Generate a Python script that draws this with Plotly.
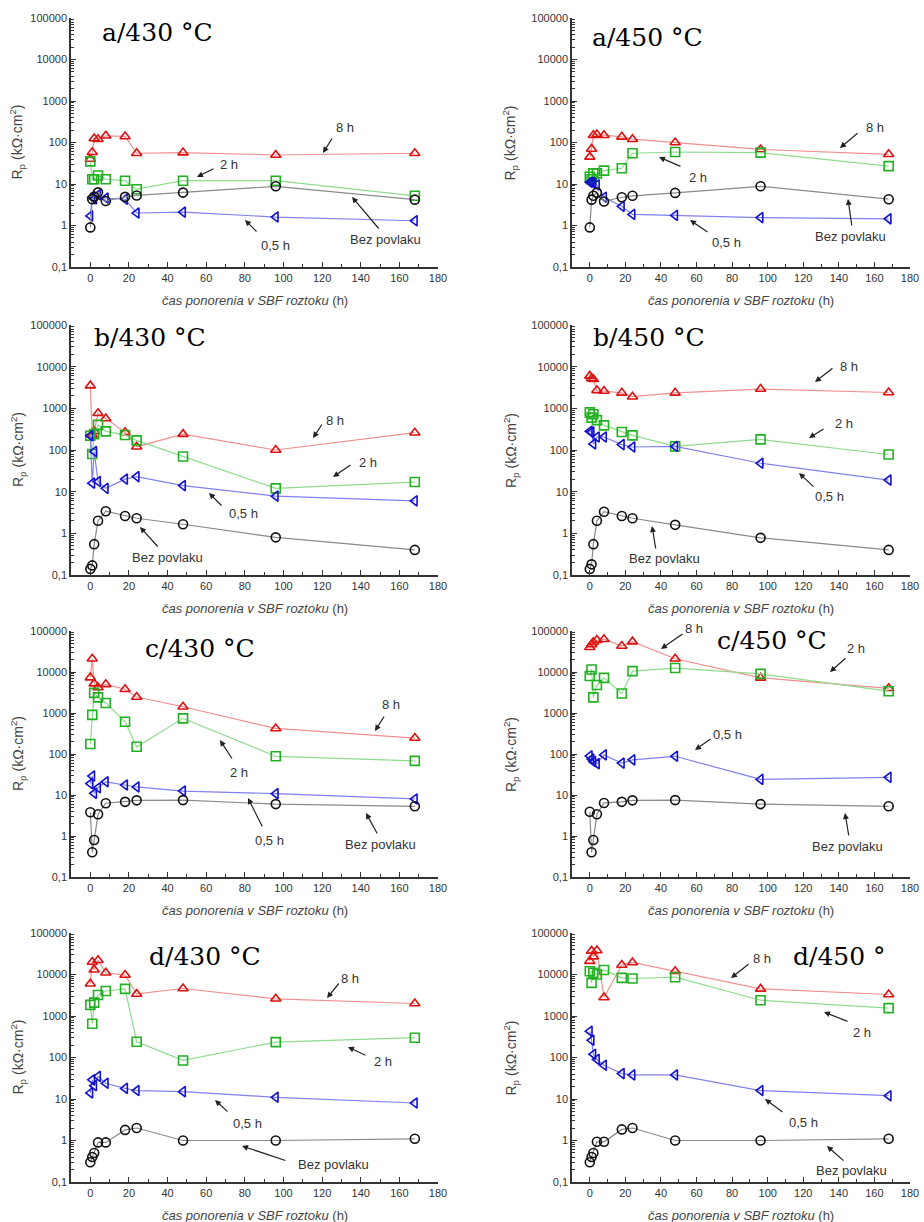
import plotly.graph_objects as go

W, H = 924, 1222

# ---------------- data ----------------
times = [0, 1, 2, 4, 8, 18, 24, 48, 96, 168]
series_names = ["8 h", "2 h", "0,5 h", "Bez povlaku"]

a430_8h = [40, 58, 125, 120, 145, 140, 55, 57, 50, 55]
a430_2h = [35, 13, 13, 16, 13, 12, 7.5, 12, 12, 5.2]
a430_05h = [1.7, 4.8, 4.4, 5.5, 4.6, 4.3, 2.0, 2.1, 1.6, 1.3]
a430_bez = [0.9, 4.3, 5.0, 6.3, 3.9, 4.9, 5.3, 6.2, 8.8, 4.2]

a450_8h = [45, 70, 150, 155, 150, 137, 120, 100, 68, 52]
a450_2h = [15, 13, 18, 18, 21, 24, 55, 59, 57, 27]
a450_05h = [11, 11, 10.5, 9.5, 4.8, 2.9, 1.85, 1.75, 1.55, 1.45]
a450_bez = [0.9, 4.2, 5.2, 6.2, 3.8, 4.8, 5.2, 6.1, 8.8, 4.3]

b430_8h = [3500, 230, 280, 760, 570, 265, 120, 240, 100, 260]
b430_2h = [220, 80, 240, 400, 280, 230, 170, 70, 12, 17]
b430_05h = [220, 16, 92, 17.5, 12, 20, 23, 14, 7.8, 6]
b430_bez = [0.14, 0.17, 0.55, 2.0, 3.4, 2.6, 2.3, 1.65, 0.8, 0.4]

b450_8h = [6000, 5200, 5000, 2700, 2600, 2350, 1900, 2350, 2900, 2400]
b450_2h = [800, 600, 720, 520, 390, 270, 225, 122, 180, 78]
b450_05h = [280, 270, 140, 205, 205, 135, 118, 122, 48, 19]
b450_bez = [0.14, 0.18, 0.55, 2.0, 3.3, 2.6, 2.3, 1.6, 0.78, 0.4]

c430_8h = [7300, 21000, 5200, 4200, 5000, 3800, 2450, 1420, 420, 245]
c430_2h = [175, 900, 3100, 2400, 1750, 610, 150, 740, 88, 68]
c430_05h = [19, 29, 11, 15, 21, 17.5, 15.7, 12.5, 10.8, 8]
c430_bez = [3.8, 0.4, 0.8, 3.4, 6.3, 6.8, 7.4, 7.5, 6.0, 5.3]

c450_8h = [40000, 47000, 53000, 60000, 63000, 43000, 55000, 21000, 7200, 4000]
c450_2h = [8000, 11500, 2400, 4800, 7200, 3000, 10500, 12500, 9000, 3400]
c450_05h = [90, 75, 65, 58, 95, 60, 72, 88, 24, 27]
c450_bez = [3.9, 0.4, 0.8, 3.4, 6.4, 6.8, 7.4, 7.5, 6.0, 5.3]

d430_8h = [6000, 20000, 13000, 22000, 11000, 9700, 3400, 4600, 2600, 2000]
d430_2h = [1850, 650, 2100, 3200, 4000, 4500, 240, 85, 235, 300]
d430_05h = [14, 29, 21, 35, 24, 18, 16, 15, 11, 8]
d430_bez = [0.3, 0.4, 0.5, 0.9, 0.9, 1.8, 2.0, 1.0, 1.0, 1.1]

d450_8h = [21000, 37000, 27000, 38000, 2800, 17000, 19500, 12000, 4500, 3300]
d450_2h = [12000, 6300, 11000, 10000, 12800, 8300, 8000, 8600, 2400, 1550]
d450_05h = [430, 260, 120, 90, 65, 41, 38, 38, 16, 12]
d450_bez = [0.3, 0.4, 0.5, 0.93, 0.93, 1.85, 2.0, 1.0, 1.0, 1.1]

panel_titles = ["a/430 °C", "a/450 °C", "b/430 °C", "b/450 °C",
                "c/430 °C", "c/450 °C", "d/430 °C", "d/450 °"]
panel_data = [
    [a430_8h, a430_2h, a430_05h, a430_bez],
    [a450_8h, a450_2h, a450_05h, a450_bez],
    [b430_8h, b430_2h, b430_05h, b430_bez],
    [b450_8h, b450_2h, b450_05h, b450_bez],
    [c430_8h, c430_2h, c430_05h, c430_bez],
    [c450_8h, c450_2h, c450_05h, c450_bez],
    [d430_8h, d430_2h, d430_05h, d430_bez],
    [d450_8h, d450_2h, d450_05h, d450_bez],
]

y_tickvals = [0.1, 1, 10, 100, 1000, 10000, 100000]
y_ticktext = ["0,1", "1", "10", "100", "1000", "10000", "100000"]
x_tickvals = [0, 20, 40, 60, 80, 100, 120, 140, 160, 180]
x_title = "<i>čas ponorenia v SBF roztoku</i> (h)"
y_title = "R<sub>p</sub> (kΩ·cm<sup>2</sup>)"

# ---------------- styles / layout geometry (pixels) ----------------
marker_syms = ["triangle-up-open", "square-open", "triangle-left-open", "circle-open"]
marker_cols = ["#dd1111", "#22b022", "#1111cc", "#111111"]
line_cols = ["#f09090", "#8fdc8f", "#8080ee", "#8a8a8a"]

col_px = [(71, 438), (572, 910)]
row_px = [(18, 267), (325, 575), (631, 877), (933, 1182)]
ytitle_x = [18, 511]
xtitle_gap = 33

label_pos = [(157, 33), (647, 37), (150, 337), (649, 337),
             (200, 649), (772, 640), (205, 956), (839, 956)]

# (text, text_x, text_y, tail_x, tail_y, head_x, head_y)
callouts = [
    [("8 h", 345, 128, 333, 137, 323, 153), ("2 h", 229, 165, 215, 168, 197, 177),
     ("0,5 h", 275, 246, 258, 233, 245, 220), ("Bez povlaku", 385, 240, 380, 230, 352, 197)],
    [("8 h", 875, 128, 859, 132, 840, 148), ("2 h", 698, 177, 682, 167, 659, 157),
     ("0,5 h", 726, 243, 709, 233, 690, 220), ("Bez povlaku", 850, 236, 852, 227, 848, 199)],
    [("8 h", 335, 420, 323, 423, 313, 438), ("2 h", 368, 462, 352, 464, 333, 477),
     ("0,5 h", 243, 513, 223, 507, 209, 493), ("Bez povlaku", 167, 557, 159, 548, 140, 527)],
    [("8 h", 849, 366, 834, 367, 815, 382), ("2 h", 844, 423, 825, 428, 809, 438),
     ("0,5 h", 829, 496, 815, 488, 799, 473), ("Bez povlaku", 664, 559, 656, 550, 652, 526)],
    [("8 h", 391, 704, 385, 715, 375, 731), ("2 h", 239, 772, 233, 760, 220, 740),
     ("0,5 h", 269, 840, 263, 828, 248, 798), ("Bez povlaku", 380, 844, 378, 835, 366, 813)],
    [("8 h", 694, 628, 684, 633, 661, 649), ("2 h", 856, 649, 847, 657, 830, 672),
     ("0,5 h", 727, 734, 712, 738, 695, 750), ("Bez povlaku", 847, 846, 849, 837, 845, 813)],
    [("8 h", 350, 978, 340, 982, 327, 998), ("2 h", 383, 1061, 367, 1056, 348, 1047),
     ("0,5 h", 247, 1123, 229, 1113, 215, 1100), ("Bez povlaku", 333, 1164, 287, 1161, 242, 1146)],
    [("8 h", 762, 958, 750, 963, 731, 978), ("2 h", 862, 1032, 849, 1022, 824, 1012),
     ("0,5 h", 803, 1122, 784, 1113, 765, 1099), ("Bez povlaku", 851, 1170, 845, 1162, 827, 1146)],
]


def px(x):
    return x / W


def py(y):
    return 1 - y / H


SANS = "Liberation Sans, Arial, sans-serif"

fig = go.Figure()
layout = dict(
    width=W, height=H,
    margin=dict(l=0, r=0, t=0, b=0, autoexpand=False),
    paper_bgcolor="white", plot_bgcolor="white",
    showlegend=False,
    font=dict(family=SANS, size=11, color="#333"),
)
annotations = []

for i, data in enumerate(panel_data):
    r, c = divmod(i, 2)
    n = i + 1
    xa = "x" if n == 1 else f"x{n}"
    ya = "y" if n == 1 else f"y{n}"
    for k in range(4):
        fig.add_trace(go.Scatter(
            x=times, y=data[k], mode="lines+markers", name=series_names[k],
            xaxis=xa, yaxis=ya, cliponaxis=False,
            line=dict(color=line_cols[k], width=1.2),
            marker=dict(symbol=marker_syms[k], size=9, color=marker_cols[k],
                        line=dict(width=1.6, color=marker_cols[k])),
        ))
    x0, x1 = col_px[c]
    y0, y1 = row_px[r]
    axis_common = dict(
        showline=True, linecolor="#333", linewidth=1.5, showgrid=False,
        zeroline=False, ticks="inside", ticklen=5, tickwidth=1.2, tickcolor="#333",
        automargin=False,
        tickfont=dict(family=SANS, size=11, color="#333"),
    )
    layout["xaxis" if n == 1 else f"xaxis{n}"] = dict(
        axis_common, domain=[px(x0), px(x1)], anchor=ya, range=[-10, 180],
        tickmode="array", tickvals=x_tickvals,
        minor=dict(ticks="inside", ticklen=3, dtick=10, tick0=0, tickcolor="#333"),
    )
    layout["yaxis" if n == 1 else f"yaxis{n}"] = dict(
        axis_common, domain=[py(y1), py(y0)], anchor=xa, type="log", range=[-1, 5],
        tickmode="array", tickvals=y_tickvals, ticktext=y_ticktext,
        minor=dict(ticks="inside", ticklen=3, dtick="D1", tickcolor="#333"),
    )
    # axis titles
    annotations.append(dict(
        x=px((x0 + x1) / 2), y=py(y1 + xtitle_gap), xref="paper", yref="paper",
        text=x_title, showarrow=False, xanchor="center", yanchor="middle",
        font=dict(family=SANS, size=13, color="#444"),
    ))
    annotations.append(dict(
        x=px(ytitle_x[c]), y=py((y0 + y1) / 2), xref="paper", yref="paper",
        text=y_title, showarrow=False, textangle=-90, xanchor="center", yanchor="middle",
        font=dict(family=SANS, size=14, color="#444"),
    ))
    lx, ly = label_pos[i]
    annotations.append(dict(
        x=px(lx), y=py(ly), xref="paper", yref="paper", text=panel_titles[i],
        showarrow=False, xanchor="center", yanchor="middle",
        font=dict(family="DejaVu Serif, serif", size=25, color="black"),
    ))
    for (txt, tx, ty, sx, sy, hx, hy) in callouts[i]:
        annotations.append(dict(
            x=px(tx), y=py(ty), xref="paper", yref="paper", text=txt,
            showarrow=False, xanchor="center", yanchor="middle",
            font=dict(family=SANS, size=13, color="#333"),
        ))
        annotations.append(dict(
            x=px(hx), y=py(hy), xref="paper", yref="paper", text="",
            showarrow=True, ax=sx - hx, ay=sy - hy, axref="pixel", ayref="pixel",
            arrowhead=2, arrowsize=1, arrowwidth=1.2, arrowcolor="#222", standoff=0,
        ))

layout["annotations"] = annotations
fig.update_layout(**layout)
fig.write_html("out.html", config={"displayModeBar": False},
               post_script="document.body.style.margin='0px';")
